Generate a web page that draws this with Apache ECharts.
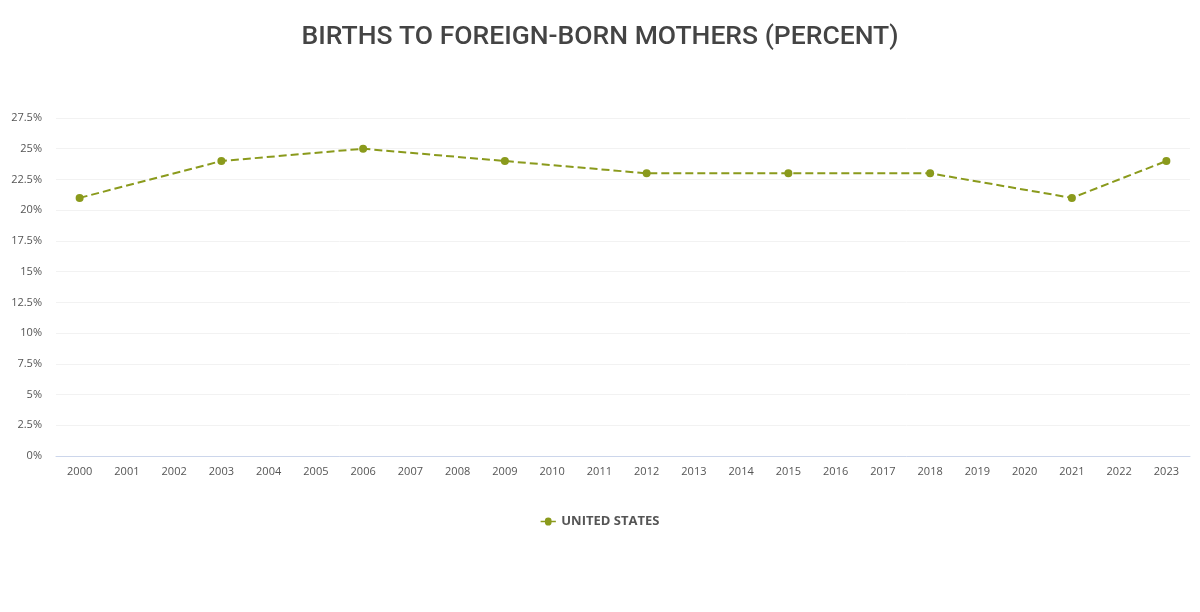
<!DOCTYPE html>
<html><head><meta charset="utf-8">
<script src="https://cdn.jsdelivr.net/npm/echarts@6/dist/echarts.min.js"></script>
<style>html,body{margin:0;padding:0;background:#fff}#c{width:1200px;height:612px}</style>
</head><body><div id="c"></div>
<script>
const years = ['2000','2001','2002','2003','2004','2005','2006','2007','2008','2009','2010','2011','2012','2013','2014','2015','2016','2017','2018','2019','2020','2021','2022','2023'];
const usValues = [21,null,null,24,null,null,25,null,null,24,null,null,23,null,null,23,null,null,23,null,null,21,null,24];
const seriesName = 'UNITED STATES';
const titleText = 'BIRTHS TO FOREIGN-BORN MOTHERS (PERCENT)';
const chart = echarts.init(document.getElementById('c'));
chart.setOption({
  animation:false,
  title:{text:titleText,left:'center',top:19,textStyle:{fontFamily:'Roboto',fontWeight:500,fontSize:26.5,color:'#444'}},
  legend:{bottom:79,left:'center',itemWidth:16,itemHeight:8,itemGap:6,
    data:[{name:seriesName,icon:'path://M0,3.3L4.5,3.3A3.5,3.5 0 1 1 11.5,3.3L16,3.3L16,4.7L11.5,4.7A3.5,3.5 0 0 1 4.5,4.7L0,4.7Z'}],
    textStyle:{fontFamily:'Open Sans',fontWeight:'bold',fontSize:13,color:'#555'}},
  grid:{left:56,right:10,top:118,bottom:156},
  xAxis:{type:'category',data:years,boundaryGap:true,
    axisLine:{lineStyle:{color:'#ccd6eb'}},axisTick:{show:false},
    axisLabel:{color:'#555',fontFamily:'Open Sans',fontSize:11,margin:10}},
  yAxis:{type:'value',min:0,max:27.5,interval:2.5,
    axisLabel:{color:'#555',fontFamily:'Open Sans',fontSize:11,margin:14,formatter:v=>v+'%'},
    splitLine:{lineStyle:{color:'#f2f2f2'}}},
  series:[{name:seriesName,type:'line',data:usValues,connectNulls:true,
    symbol:'circle',symbolSize:8,
    itemStyle:{color:'#8a9a1c'},
    lineStyle:{type:'dashed',width:2,color:'#8a9a1c'}}]
});
</script></body></html>
